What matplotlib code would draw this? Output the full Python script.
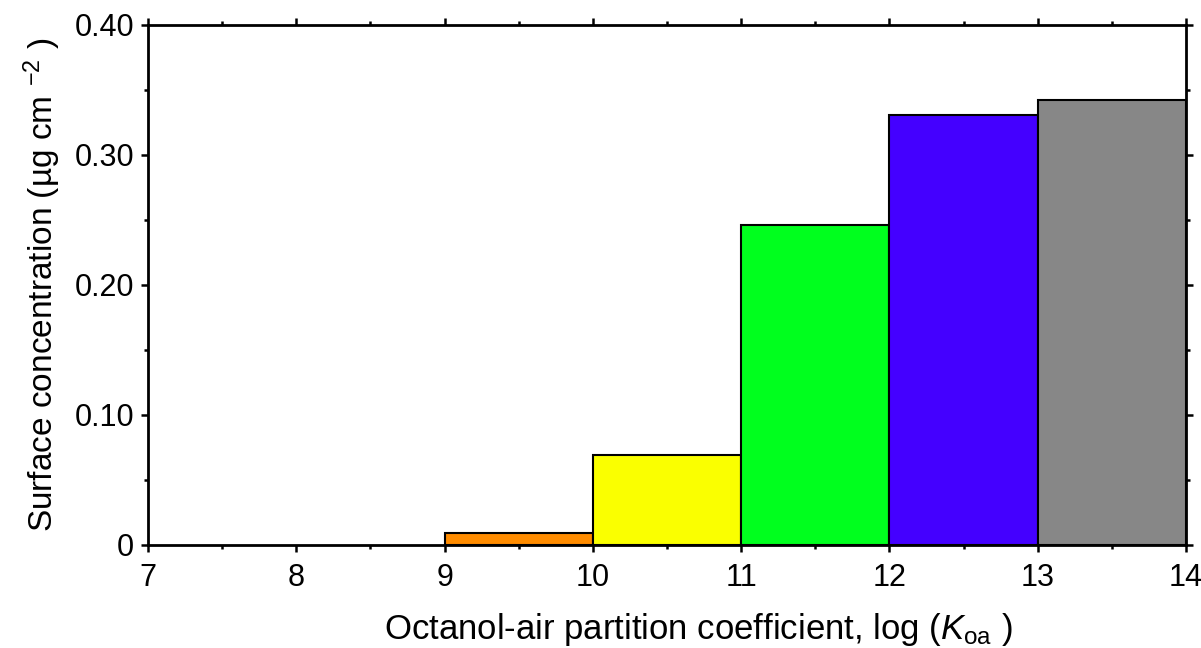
import matplotlib
matplotlib.use("Agg")
import matplotlib.pyplot as plt
from matplotlib.ticker import MultipleLocator, FixedLocator

# Klassen von log(Koa) und Oberflaechenkonzentration
bin_left = [9, 10, 11, 12, 13]
conc = [0.009, 0.069, 0.246, 0.331, 0.342]
colors = ["#FF8C00", "#FAFF00", "#00FF1E", "#4400FF", "#878787"]
xticks = [7, 8, 9, 10, 11, 12, 13, 14]
yticks = [0, 0.10, 0.20, 0.30, 0.40]
ylabels = ["0", "0.10", "0.20", "0.30", "0.40"]

plt.rcParams["font.family"] = ["Liberation Sans", "DejaVu Sans"]
plt.rcParams["mathtext.fontset"] = "custom"
plt.rcParams["mathtext.rm"] = "Liberation Sans"
plt.rcParams["mathtext.it"] = "Liberation Sans:italic"

fig = plt.figure(figsize=(12.01, 6.48), dpi=100)
ax = fig.add_axes([148 / 1201, 1 - 545 / 648, (1186 - 148) / 1201, (545 - 25) / 648])

ax.bar(bin_left, conc, width=1, align="edge", color=colors,
       edgecolor="black", linewidth=1.5, zorder=2)

ax.set_xlim(7, 14)
ax.set_ylim(0, 0.40)
ax.xaxis.set_major_locator(FixedLocator(xticks))
ax.xaxis.set_minor_locator(MultipleLocator(0.5))
ax.yaxis.set_major_locator(FixedLocator(yticks))
ax.yaxis.set_minor_locator(MultipleLocator(0.05))
ax.set_yticklabels(ylabels)

for s in ax.spines.values():
    s.set_linewidth(2)
    s.set_zorder(3)

ax.tick_params(which="both", direction="out", top=True, right=True,
               labeltop=False, labelright=False, width=1.8, labelsize=22)
ax.tick_params(which="major", length=5, pad=5)
ax.tick_params(axis="x", which="major", pad=8)
ax.tick_params(which="minor", length=3)

ax.set_xlabel(r"Octanol-air partition coefficient, log ($\mathit{K}_{\rm oa}$ )",
              fontsize=25, labelpad=13)
ax.xaxis.label.set_x(0.53)
ax.set_ylabel(r"Surface concentration (µg cm $^{-2}$ )", fontsize=24, labelpad=8)

fig.savefig("out.png", dpi=100)
